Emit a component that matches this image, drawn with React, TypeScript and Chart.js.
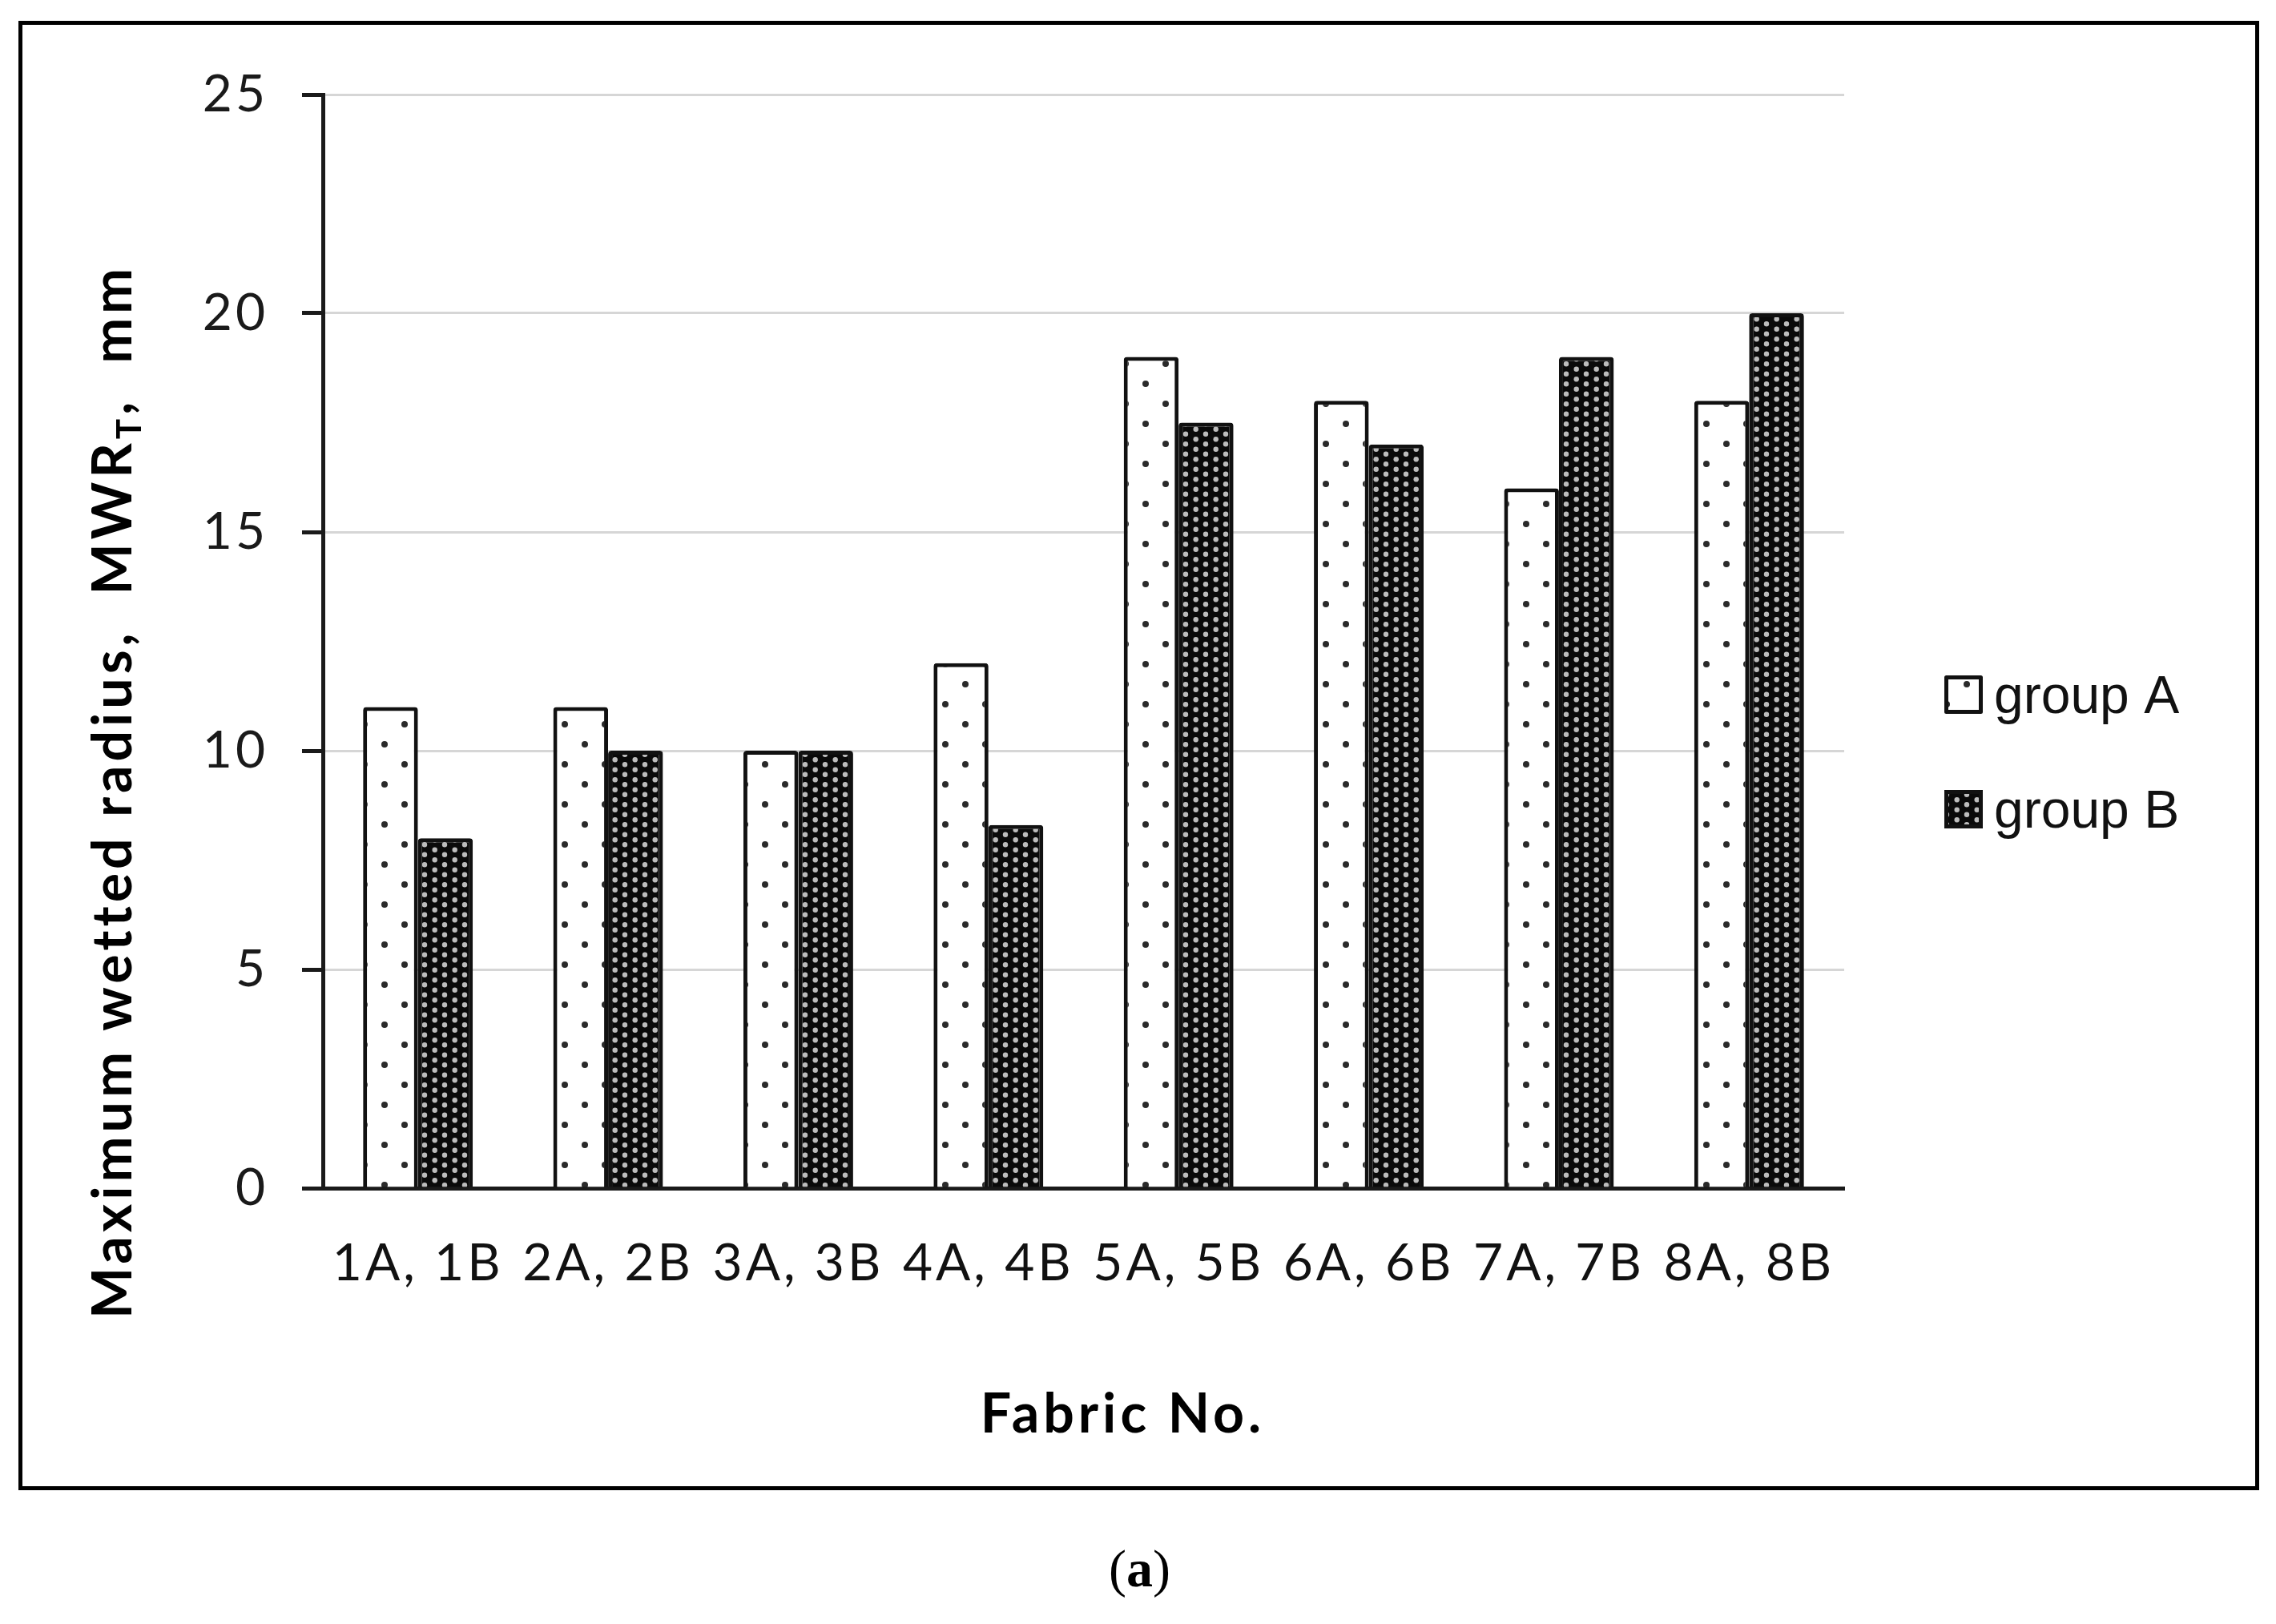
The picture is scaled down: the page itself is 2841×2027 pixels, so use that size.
import React, { useEffect, useRef } from 'react';
import { Chart, registerables } from 'chart.js';

Chart.register(...registerables);

// ---- data ----
const categories = ['1A, 1B', '2A, 2B', '3A, 3B', '4A, 4B', '5A, 5B', '6A, 6B', '7A, 7B', '8A, 8B'];
const seriesNames = ['group A', 'group B'];
const groupA = [11, 11, 10, 12, 19, 18, 16, 18];
const groupB = [8, 10, 10, 8.3, 17.5, 17, 19, 20];
const yMin = 0;
const yMax = 25;
const yStep = 5;
const xTitle = 'Fabric No.';
const yTitleMain = 'Maximum wetted radius,  MWR';
const yTitleSub = 'T';
const yTitleEnd = ',  mm';
const captionLetter = 'a';

// ---- layout constants ----
const W = 2841;
const H = 1860;
const AREA_LEFT = 403;
const AREA_RIGHT = 2302;
const AREA_TOP = 118;
const AREA_BOTTOM = 1483;

function makePatternA(ctx: CanvasRenderingContext2D) {
  const c = document.createElement('canvas');
  c.width = 50;
  c.height = 50;
  const g = c.getContext('2d')!;
  g.fillStyle = '#ffffff';
  g.fillRect(0, 0, 50, 50);
  g.fillStyle = '#2a2a2a';
  const dots = [[5, 4], [30, 29]];
  for (const [x, y] of dots) {
    for (const dx of [-50, 0, 50]) {
      for (const dy of [-50, 0, 50]) {
        g.beginPath();
        g.arc(x + dx, y + dy, 4, 0, Math.PI * 2);
        g.fill();
      }
    }
  }
  return ctx.createPattern(c, 'repeat')!;
}

function makePatternB(ctx: CanvasRenderingContext2D) {
  const c = document.createElement('canvas');
  c.width = 25;
  c.height = 25;
  const g = c.getContext('2d')!;
  g.fillStyle = '#0a0a0a';
  g.fillRect(0, 0, 25, 25);
  g.fillStyle = '#bdbdbd';
  const dots = [[17.7, 10.8], [17.7, 23.3], [5, 4.2], [5, 16.7]];
  for (const [x, y] of dots) {
    for (const dx of [-25, 0, 25]) {
      for (const dy of [-25, 0, 25]) {
        g.beginPath();
        g.arc(x + dx, y + dy, 3.2, 0, Math.PI * 2);
        g.fill();
      }
    }
  }
  return ctx.createPattern(c, 'repeat')!;
}

const decorPlugin = {
  id: 'decor',
  beforeDraw(chart: any) {
    chart.ctx.letterSpacing = '4px';
  },
  afterDraw(chart: any) {
    const { ctx, chartArea } = chart;
    ctx.save();
    ctx.fillStyle = '#000000';

    // x axis title
    ctx.font = 'bold 68px Lato';
    ctx.letterSpacing = '5px';
    ctx.textAlign = 'center';
    ctx.textBaseline = 'alphabetic';
    ctx.fillText(xTitle, (chartArea.left + chartArea.right) / 2 + 49, 1788);

    // y axis title (rotated, with subscript)
    ctx.save();
    ctx.translate(164, 988);
    ctx.rotate(-Math.PI / 2);
    ctx.textAlign = 'left';
    const mainFont = 'bold 68px Lato';
    const subFont = 'bold 42px Lato';
    ctx.font = mainFont;
    const w1 = ctx.measureText(yTitleMain).width;
    ctx.font = subFont;
    const w2 = ctx.measureText(yTitleSub).width;
    ctx.font = mainFont;
    const w3 = ctx.measureText(yTitleEnd).width;
    let x = -(w1 + w2 + w3) / 2;
    ctx.fillText(yTitleMain, x, 0);
    x += w1;
    ctx.font = subFont;
    ctx.fillText(yTitleSub, x, 12);
    x += w2;
    ctx.font = mainFont;
    ctx.fillText(yTitleEnd, x, 0);
    ctx.restore();

    // legend
    ctx.letterSpacing = '0px';
    ctx.font = '66px "Liberation Sans"';
    ctx.textAlign = 'left';
    ctx.textBaseline = 'alphabetic';
    const legendCenters = [867, 1010];
    chart.data.datasets.forEach((ds: any, i: number) => {
      const bx = chartArea.right + 125;
      const cy = legendCenters[i];
      const size = 48;
      ctx.fillStyle = ds.backgroundColor;
      ctx.fillRect(bx, cy - size / 2, size, size);
      ctx.strokeStyle = '#111111';
      ctx.lineWidth = 5;
      ctx.lineJoin = 'round';
      ctx.strokeRect(bx + 2.5, cy - size / 2 + 2.5, size - 5, size - 5);
      ctx.fillStyle = '#111111';
      ctx.fillText(ds.label, bx + size + 14, cy + 23);
    });

    ctx.restore();
    ctx.letterSpacing = '0px';
  },
};

export default function App() {
  const canvasRef = useRef<HTMLCanvasElement | null>(null);

  useEffect(() => {
    const canvas = canvasRef.current!;
    const ctx = canvas.getContext('2d')!;
    const patA = makePatternA(ctx);
    const patB = makePatternB(ctx);

    const chart = new Chart(canvas, {
      type: 'bar',
      data: {
        labels: categories,
        datasets: [
          {
            label: seriesNames[0],
            data: groupA,
            backgroundColor: patA as any,
            borderColor: '#111111',
            borderWidth: 5,
            borderSkipped: 'start',
            borderRadius: { topLeft: 4, topRight: 4, bottomLeft: 0, bottomRight: 0 },
            categoryPercentage: 0.577,
            barPercentage: 1.0,
          },
          {
            label: seriesNames[1],
            data: groupB,
            backgroundColor: patB as any,
            borderColor: '#111111',
            borderWidth: 5,
            borderSkipped: 'start',
            borderRadius: { topLeft: 4, topRight: 4, bottomLeft: 0, bottomRight: 0 },
            categoryPercentage: 0.577,
            barPercentage: 1.0,
          },
        ],
      },
      options: {
        responsive: false,
        animation: false,
        devicePixelRatio: 1,
        events: [],
        layout: {
          padding: { top: AREA_TOP, right: W - AREA_RIGHT, bottom: 0, left: 0 },
        },
        plugins: {
          legend: { display: false },
          tooltip: { enabled: false },
          title: { display: false },
        },
        scales: {
          x: {
            type: 'category',
            grid: { display: false, drawTicks: false },
            border: { display: true, color: '#1a1a1a', width: 5 },
            ticks: {
              color: '#111111',
              font: { family: 'Lato', size: 64 },
              padding: 56,
              maxRotation: 0,
              autoSkip: false,
            },
            afterFit: (s: any) => {
              s.height = H - AREA_BOTTOM;
            },
          },
          y: {
            min: yMin,
            max: yMax,
            grid: {
              color: '#d6d6d6',
              lineWidth: 3,
              drawTicks: true,
              tickLength: 26,
              tickColor: '#1a1a1a',
              tickWidth: 5,
            },
            border: { display: true, color: '#1a1a1a', width: 5 },
            ticks: {
              stepSize: yStep,
              color: '#1a1a1a',
              font: { family: 'Lato', size: 64 },
              padding: 42,
            },
            afterFit: (s: any) => {
              s.width = AREA_LEFT;
            },
          },
        },
      },
      plugins: [decorPlugin],
    });

    return () => {
      chart.destroy();
    };
  }, []);

  return (
    <div
      style={{
        position: 'absolute',
        left: 0,
        top: 0,
        width: W,
        height: 2027,
        background: '#ffffff',
      }}
    >
      <div
        style={{
          position: 'absolute',
          left: 23,
          top: 26,
          width: 2797,
          height: 1834,
          border: '5px solid #000',
          boxSizing: 'border-box',
        }}
      />
      <canvas
        ref={canvasRef}
        width={W}
        height={H}
        style={{ position: 'absolute', left: 0, top: 0, width: W, height: H }}
      />
      <div
        style={{
          position: 'absolute',
          left: 0,
          width: 2845,
          top: 1918,
          textAlign: 'center',
          fontFamily: '"Liberation Serif", "Times New Roman", serif',
          fontSize: 66,
          lineHeight: '80px',
          color: '#000',
        }}
      >
        (<b>{captionLetter}</b>)
      </div>
    </div>
  );
}
